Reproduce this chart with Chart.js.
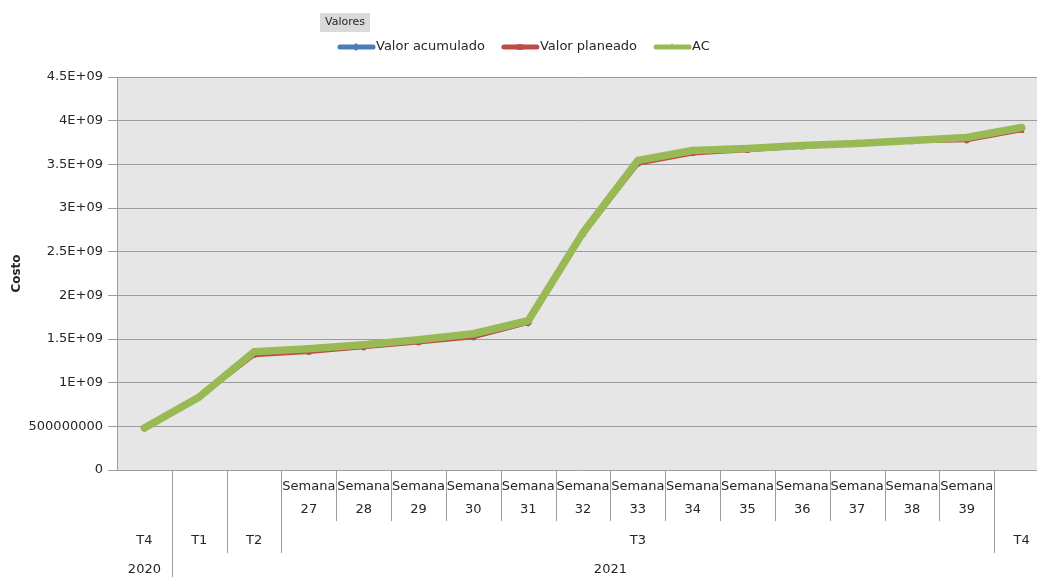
<!DOCTYPE html>
<html>
<head>
<meta charset="utf-8">
<title>Costo acumulado</title>
<script src="https://cdn.jsdelivr.net/npm/chart.js@4.4.1/dist/chart.umd.min.js"></script>
<style>
  html, body { margin: 0; padding: 0; background: #ffffff; overflow: hidden; }
  #marco { width: 1037px; height: 577px; overflow: hidden; position: relative; }
  #grafico { display: block; }
</style>
</head>
<body>
<div id="marco"><canvas id="grafico" width="1049" height="577"></canvas></div>
<script>
// Eje de categorías en tres niveles: semana, trimestre y año
const semanas    = ['', '', '', '27', '28', '29', '30', '31', '32', '33', '34', '35', '36', '37', '38', '39', ''];
const trimestres = ['T4', 'T1', 'T2', 'T3', 'T3', 'T3', 'T3', 'T3', 'T3', 'T3', 'T3', 'T3', 'T3', 'T3', 'T3', 'T3', 'T4'];
const anios      = ['2020', '2021', '2021', '2021', '2021', '2021', '2021', '2021', '2021', '2021', '2021', '2021', '2021', '2021', '2021', '2021', '2021'];

// Series (costo en pesos)
const valorAcumulado = [4.80e8, 8.35e8, 1.340e9, 1.365e9, 1.410e9, 1.468e9, 1.525e9, 1.686e9, 2.710e9, 3.525e9, 3.645e9, 3.670e9, 3.715e9, 3.740e9, 3.770e9, 3.780e9, 3.912e9];
const valorPlaneado  = [4.75e8, 8.30e8, 1.315e9, 1.350e9, 1.405e9, 1.460e9, 1.520e9, 1.685e9, 2.700e9, 3.505e9, 3.625e9, 3.660e9, 3.700e9, 3.730e9, 3.765e9, 3.775e9, 3.890e9];
const costoReal      = [4.82e8, 8.37e8, 1.353e9, 1.388e9, 1.434e9, 1.491e9, 1.560e9, 1.709e9, 2.718e9, 3.544e9, 3.658e9, 3.681e9, 3.716e9, 3.739e9, 3.773e9, 3.807e9, 3.922e9];

// Escala del eje de costo
const costoMin = 0;
const costoMax = 4.5e9;
const costoPaso = 5e8;

const etiquetas = semanas.map((s, i) => anios[i] + ' ' + trimestres[i] + (s ? ' Semana ' + s : ''));

const FUENTE = '"DejaVu Sans", "Liberation Sans", sans-serif';
const TEXTO = '#262626';

// Formato tipo hoja de cálculo: 500000000, 1E+09, 1.5E+09 ...
function formatoGeneral(v) {
  if (v === 0) return '0';
  if (Math.abs(v) < 1e9) return String(Math.round(v));
  const exp = Math.floor(Math.log10(Math.abs(v)));
  const mant = Math.round(v / Math.pow(10, exp) * 100) / 100;
  return mant + 'E+' + String(exp).padStart(2, '0');
}

// Fondo gris del área de trazado
const fondoArea = {
  id: 'fondoArea',
  beforeDraw(chart) {
    const { ctx, chartArea: a } = chart;
    ctx.save();
    ctx.fillStyle = '#ffffff';
    ctx.fillRect(0, 0, chart.width, chart.height);
    ctx.fillStyle = '#e6e6e6';
    ctx.fillRect(a.left, a.top, a.right - a.left, a.bottom - a.top);
    ctx.restore();
  }
};

// Etiquetas jerárquicas bajo el eje X
const ejeCategorias = {
  id: 'ejeCategorias',
  afterDraw(chart) {
    const { ctx, chartArea: a, scales: { x } } = chart;
    const n = semanas.length;
    const paso = x.getPixelForValue(1) - x.getPixelForValue(0);
    const borde = i => Math.round(x.getPixelForValue(i) - paso / 2) + 0.5;
    const yBase = a.bottom;

    ctx.save();
    ctx.strokeStyle = '#9c9c9c';
    ctx.lineWidth = 1;
    ctx.fillStyle = TEXTO;
    ctx.font = '13px ' + FUENTE;
    ctx.textAlign = 'center';
    ctx.textBaseline = 'middle';

    // divisores entre categorías
    for (let i = 1; i < n; i++) {
      let fin;
      if (anios[i] !== anios[i - 1]) fin = chart.height;
      else if (trimestres[i] !== trimestres[i - 1]) fin = 553;
      else fin = 521;
      const bx = borde(i);
      ctx.beginPath();
      ctx.moveTo(bx, yBase);
      ctx.lineTo(bx, fin);
      ctx.stroke();
    }

    // nivel semana
    for (let i = 0; i < n; i++) {
      if (!semanas[i]) continue;
      const cx = x.getPixelForValue(i);
      ctx.fillText('Semana', cx, 487);
      ctx.fillText(semanas[i], cx, 510);
    }

    // agrupa índices consecutivos con la misma clave
    const grupos = clave => {
      const out = [];
      let ini = 0;
      for (let i = 1; i <= n; i++) {
        if (i === n || clave(i) !== clave(ini)) {
          out.push({ ini, fin: i - 1, i: ini });
          ini = i;
        }
      }
      return out;
    };

    grupos(i => anios[i] + trimestres[i]).forEach(g => {
      const cx = (x.getPixelForValue(g.ini) + x.getPixelForValue(g.fin)) / 2;
      ctx.fillText(trimestres[g.i], cx, 541);
    });
    grupos(i => anios[i]).forEach(g => {
      const cx = (x.getPixelForValue(g.ini) + x.getPixelForValue(g.fin)) / 2;
      ctx.fillText(anios[g.i], cx, 570);
    });
    ctx.restore();
  }
};

// Leyenda con muestra de línea y marcador
const leyenda = {
  id: 'leyenda',
  afterDraw(chart) {
    const { ctx } = chart;
    ctx.save();
    // botón del campo "Valores"
    ctx.fillStyle = '#dadada';
    ctx.fillRect(320, 13, 50, 19);
    ctx.fillStyle = TEXTO;
    ctx.font = '11px ' + FUENTE;
    ctx.textAlign = 'center';
    ctx.textBaseline = 'middle';
    ctx.fillText('Valores', 345, 22.5);

    ctx.font = '13px ' + FUENTE;
    ctx.textAlign = 'left';
    let xx = 338;
    const y = 47;
    chart.data.datasets.forEach(ds => {
      ctx.strokeStyle = ds.borderColor;
      ctx.lineWidth = 5;
      ctx.lineCap = 'round';
      ctx.beginPath();
      ctx.moveTo(xx + 2, y);
      ctx.lineTo(xx + 35, y);
      ctx.stroke();
      ctx.fillStyle = ds.pointBackgroundColor || ds.borderColor;
      Chart.helpers.drawPoint(ctx, { pointStyle: ds.pointStyle, radius: 4, rotation: 0, borderWidth: 0 }, xx + 18, y);
      ctx.fillStyle = TEXTO;
      ctx.fillText(ds.label, xx + 38, y);
      xx += 38 + ctx.measureText(ds.label).width + 17;
    });
    ctx.restore();
  }
};

new Chart(document.getElementById('grafico'), {
  type: 'line',
  data: {
    labels: etiquetas,
    datasets: [
      {
        label: 'Valor acumulado',
        data: valorAcumulado,
        borderColor: '#4a7ebb',
        backgroundColor: '#4a7ebb',
        pointBackgroundColor: '#4a7ebb',
        pointBorderColor: '#3b6a99',
        borderWidth: 4,
        pointStyle: 'rectRot',
        pointRadius: 3.5,
        pointBorderWidth: 1,
        order: 3
      },
      {
        label: 'Valor planeado',
        data: valorPlaneado,
        borderColor: '#be4b48',
        backgroundColor: '#be4b48',
        pointBackgroundColor: '#be4b48',
        pointBorderColor: '#be4b48',
        borderWidth: 4,
        pointStyle: 'rect',
        pointRadius: 3,
        pointBorderWidth: 1,
        order: 2
      },
      {
        label: 'AC',
        data: costoReal,
        borderColor: '#98b954',
        backgroundColor: '#98b954',
        pointBackgroundColor: '#98b954',
        pointBorderColor: '#98b954',
        borderWidth: 7.5,
        pointStyle: 'triangle',
        pointRadius: 3.5,
        pointBorderWidth: 1,
        order: 1
      }
    ]
  },
  options: {
    responsive: false,
    animation: false,
    devicePixelRatio: 1,
    layout: { autoPadding: false, padding: { top: 77, right: 0, bottom: 107, left: 0 } },
    elements: { line: { tension: 0, borderJoinStyle: 'round', borderCapStyle: 'round' } },
    plugins: { legend: { display: false }, tooltip: { enabled: false } },
    scales: {
      x: { type: 'category', offset: true, display: false },
      y: {
        min: costoMin,
        max: costoMax,
        ticks: {
          stepSize: costoPaso,
          callback: v => formatoGeneral(v),
          font: { family: FUENTE, size: 13 },
          color: TEXTO,
          padding: 5
        },
        grid: { color: '#9c9c9c', lineWidth: 1, tickLength: 9, drawTicks: true },
        border: { color: '#9c9c9c' },
        title: {
          display: true,
          text: 'Costo',
          font: { family: FUENTE, size: 12, weight: 'bold' },
          color: TEXTO,
          padding: { top: 10, bottom: 0 }
        },
        afterFit(scale) { scale.width = 117; }
      }
    }
  },
  plugins: [fondoArea, ejeCategorias, leyenda]
});
</script>
</body>
</html>
